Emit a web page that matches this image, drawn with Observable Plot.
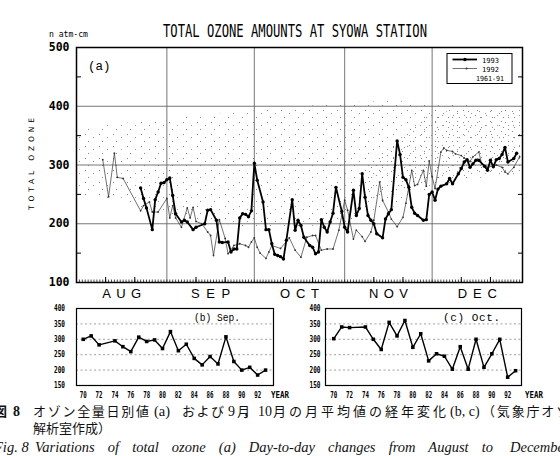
<!DOCTYPE html>
<html><head><meta charset="utf-8">
<script src="https://cdn.jsdelivr.net/npm/d3@7"></script>
<script src="https://cdn.jsdelivr.net/npm/@observablehq/plot@0.6"></script>
<style>
body{margin:0;background:#fff;}
#wrap{position:relative;width:560px;height:456px;overflow:hidden;background:#fff;}
#wrap svg{position:absolute;}
</style></head><body><div id="wrap"></div>
<script>
// ---------- DATA ----------
// (a) daily total ozone, day index counted from 1 August (0 = Aug 1)
const days1993 = [22,23,24,26,27,28,29,30,31,32,33,34,36,37,38,40,41,44,45,46,48,49,50,52,53,54,55,56,57,58,59,60,61,62,64,65,66,67,68,69,70,71,72,74,75,76,77,78,80,81,82,83,84,85,86,87,88,89,91,92,93,95,96,97,98,99,100,101,102,103,105,106,107,108,110,111,112,113,114,115,116,117,119,120,121,122,123,124,125,127,128,129,131,132,133,134,135,136,137,138,140,141,142,143,144,145,146,147,148,150,151,152];
const vals1993 = [261,243,227,190,241,254,269,270,275,278,248,217,203,206,203,190,194,200,223,224,206,169,168,169,152,157,157,210,217,216,212,222,303,274,237,190,190,166,148,146,144,140,172,241,189,206,197,177,163,160,149,152,207,194,186,203,218,262,221,194,186,257,214,226,285,245,214,206,200,183,176,208,217,224,341,318,279,275,262,228,218,214,206,207,250,254,240,259,264,268,277,268,285,294,305,309,296,302,308,308,298,291,308,297,309,311,318,330,305,311,320];
const days1992 = [9,11,13,14,16,22,23,25,26,28,31,32,33,34,36,38,39,40,41,43,45,46,47,49,51,52,54,56,58,59,60,61,62,63,65,66,67,70,73,75,77,79,81,82,84,86,88,90,92,93,95,96,98,99,101,102,104,105,107,108,110,112,113,115,116,117,119,120,121,122,123,125,126,127,129,130,132,133,135,136,138,139,141,144,146,147,148,150,152];
const vals1992 = [309,246,320,279,277,222,231,237,220,220,243,210,231,210,194,227,210,228,204,200,186,180,146,207,175,149,163,166,163,160,169,176,160,150,141,152,163,158,176,155,143,177,180,180,155,157,157,189,240,223,174,189,178,170,186,206,271,240,220,208,195,211,235,291,265,267,291,264,307,280,260,322,329,325,323,319,316,312,306,314,322,302,296,300,296,288,285,296,314];
// 1961-91 daily values (stippled): outer range and denser core
const envDays  = [0,15,31,46,61,76,92,107,122,137,153];
const envLow   = [250,238,215,200,195,195,200,225,258,276,285];
const envHigh  = [360,370,378,385,392,398,405,408,405,400,392];
const coreDays = [100,112,122,137,153];
const coreLow  = [240,258,272,282,288];
const coreHigh = [300,350,385,395,390];
const monthNames = ["AUG","SEP","OCT","NOV","DEC"];
const monthStartDays = [0,31,61,92,122,153];
// (b), (c) monthly means by year
const years    = [1970,1971,1972,1974,1975,1976,1977,1978,1979,1980,1981,1982,1983,1984,1985,1986,1987,1988,1989,1990,1991,1992,1993];
const sepMeans = [300,311,282,295,276,260,307,293,298,270,325,263,284,238,217,244,220,308,228,200,209,184,200];
const octMeans = [302,340,338,340,300,267,355,311,361,274,318,230,253,245,203,276,203,300,209,253,300,177,198];
const yearTicks = [1970,1972,1974,1976,1978,1980,1982,1984,1986,1988,1990,1992];

// ---------- BUILD ----------
const wrap = document.getElementById("wrap");
const toDate = d => new Date(Date.UTC(1993, 7, 1 + d));
const s93 = days1993.map((d, i) => ({date: toDate(d), value: vals1993[i]}));
const s92 = days1992.map((d, i) => ({date: toDate(d), value: vals1992[i]}));
const env = envDays.map((d, i) => ({date: toDate(d), lo: envLow[i], hi: envHigh[i]}));
const core = coreDays.map((d, i) => ({date: toDate(d), lo: coreLow[i], hi: coreHigh[i]}));
const months = monthNames.map((n, i) => ({name: n, mid: new Date((+toDate(monthStartDays[i]) + +toDate(monthStartDays[i + 1])) / 2)}));
const monthLines = monthStartDays.slice(1, 5).map(toDate);
const dayTicks = d3.utcDay.range(toDate(1), toDate(153));
const tenTicks = dayTicks.filter(d => d.getUTCDate() === 11 || d.getUTCDate() === 21);
const noLabel = () => "";

const main = Plot.plot({
  width: 560, height: 300,
  marginLeft: 76, marginRight: 38, marginTop: 47, marginBottom: 18,
  x: {type: "utc", domain: [toDate(0), toDate(153)]},
  y: {domain: [100, 500]},
  style: {fontFamily: "DejaVu Sans Mono", background: "transparent", color: "#000", overflow: "visible"},
  marks: [
    Plot.areaY(env, {x: "date", y1: "lo", y2: "hi", fill: "url(#stip)", curve: "monotone-x"}),
    Plot.areaY(core, {x: "date", y1: "lo", y2: "hi", fill: "url(#stip2)", curve: "monotone-x"}),
    Plot.ruleY([200, 300, 400], {stroke: "#666", strokeWidth: 0.9}),
    Plot.ruleX(monthLines, {stroke: "#666", strokeWidth: 0.9}),
    Plot.line(s92, {x: "date", y: "value", stroke: "#333", strokeWidth: 0.7}),
    Plot.dot(s92, {x: "date", y: "value", r: 0.9, fill: "#333"}),
    Plot.line(s93, {x: "date", y: "value", stroke: "#000", strokeWidth: 1.8}),
    Plot.dot(s93, {x: "date", y: "value", r: 1.7, fill: "#000"}),
    Plot.axisX({ticks: dayTicks, tickSize: -2.5, tickFormat: noLabel, strokeWidth: 0.7, label: null}),
    Plot.axisX({ticks: tenTicks, tickSize: -5, tickFormat: noLabel, label: null}),
    Plot.axisY({ticks: [150, 250, 350, 450], tickSize: -5, tickFormat: noLabel, label: null}),
    Plot.axisY({anchor: "right", ticks: [150, 250, 350, 450], tickSize: -5, tickFormat: noLabel, label: null}),
    Plot.axisY({ticks: [100, 200, 300, 400, 500], tickSize: 0, tickPadding: 7, fontSize: 11.5, fontWeight: "bold", label: null}),
    Plot.text(months, {x: "mid", text: "name", frameAnchor: "bottom", dy: 11, lineAnchor: "middle", fontSize: 13, fontFamily: "Liberation Sans"}),
    Plot.frame({stroke: "#000", strokeWidth: 1.5})
  ]
});
d3.select(main).insert("defs", ":first-child").html(
  `<pattern id="stip" width="14" height="12" patternUnits="userSpaceOnUse">
     <rect x="1" y="2" width="1" height="1" fill="#888"/>
     <rect x="9" y="5" width="1" height="1" fill="#999"/>
     <rect x="4" y="9" width="1" height="1" fill="#888"/>
   </pattern>
   <pattern id="stip2" width="11" height="10" patternUnits="userSpaceOnUse">
     <rect x="6" y="1" width="1" height="1" fill="#888"/>
     <rect x="2" y="5" width="1" height="1" fill="#999"/>
     <rect x="8" y="7" width="1" height="1" fill="#888"/>
   </pattern>`);
d3.select(main).selectAll('g[aria-label="text"] text').attr("textLength", 39).attr("lengthAdjust", "spacing");
main.style.left = "0px"; main.style.top = "0px";
wrap.appendChild(main);

function panel(vals, domain, ml, mr, w, pad) {
  const data = years.map((y, i) => ({year: y, v: vals[i]}));
  const p = Plot.plot({
    width: w, height: 110, marginLeft: ml, marginRight: mr, marginTop: 8, marginBottom: 25,
    x: {domain}, y: {domain: [150, 400]},
    style: {fontFamily: "DejaVu Sans Mono", background: "transparent", color: "#000", overflow: "visible"},
    marks: [
      Plot.ruleY([200, 250, 300, 350], {stroke: "#888", strokeDasharray: "2,2.5", strokeWidth: 0.8}),
      Plot.line(data, {x: "year", y: "v", stroke: "#000", strokeWidth: 1.4}),
      Plot.dot(data, {x: "year", y: "v", symbol: "square", r: 2, fill: "#000"}),
      Plot.axisY({ticks: [150, 200, 250, 300, 350, 400], tickSize: 0, tickPadding: pad, fontSize: 8.5, fontWeight: "bold", label: null}),
      Plot.axisX({ticks: yearTicks, tickSize: 0, tickPadding: 6, tickFormat: d => String(d % 100).padStart(2, "0"), fontSize: 8.5, fontWeight: "bold", label: null}),
      Plot.frame({stroke: "#000", strokeWidth: 1.2})
    ]
  });
  d3.select(p).selectAll('g[aria-label="y-axis tick label"] text').attr("textLength", 11).attr("lengthAdjust", "spacingAndGlyphs");
  d3.select(p).selectAll('g[aria-label="x-axis tick label"] text').attr("textLength", 7).attr("lengthAdjust", "spacingAndGlyphs");
  return p;
}
const pb = panel(sepMeans, [1969.15, 1994.0], 76, 17, 290, 11.5);
pb.style.left = "0px"; pb.style.top = "300px";
wrap.appendChild(pb);
const pc = panel(octMeans, [1968.95, 1993.75], 75, 39, 310, 5);
pc.style.left = "250px"; pc.style.top = "300px";
wrap.appendChild(pc);

// ---------- annotations ----------
const ov = `
<svg width="560" height="456" style="left:0;top:0;pointer-events:none" font-family="DejaVu Sans Mono">
  <text x="163" y="36.5" font-size="18" textLength="264" lengthAdjust="spacingAndGlyphs">TOTAL OZONE AMOUNTS AT SYOWA STATION</text>
  <text x="49" y="37" font-size="9" textLength="39" lengthAdjust="spacingAndGlyphs">n atm-cm</text>
  <text transform="translate(33.5,210) rotate(-90)" font-size="7.5" textLength="92" lengthAdjust="spacing" font-family="DejaVu Sans">TOTAL OZONE</text>
  <text x="88" y="70" font-family="Liberation Mono" font-size="12.5">(a)</text>
  <g>
    <rect x="447" y="53.5" width="65" height="30" fill="#fff" stroke="#000" stroke-width="1"/>
    <line x1="452.5" x2="477" y1="59.5" y2="59.5" stroke="#000" stroke-width="1.8"/>
    <circle cx="465" cy="59.5" r="1.7" fill="#000"/>
    <text x="482" y="63" font-size="7" textLength="17" lengthAdjust="spacingAndGlyphs">1993</text>
    <line x1="452.5" x2="477" y1="68.5" y2="68.5" stroke="#333" stroke-width="0.7"/>
    <circle cx="466.5" cy="68.5" r="1" fill="#333"/>
    <text x="482" y="72" font-size="7" textLength="17" lengthAdjust="spacingAndGlyphs">1992</text>
    <text x="476" y="80.5" font-size="7" textLength="28" lengthAdjust="spacingAndGlyphs">1961-91</text>
  </g>
  <text x="194" y="321" font-family="Liberation Mono" font-size="11" textLength="46" lengthAdjust="spacingAndGlyphs">(b) Sep.</text>
  <text x="443" y="321" font-family="Liberation Mono" font-size="11" textLength="57" lengthAdjust="spacing">(c) Oct.</text>
  <text x="271" y="398" font-size="8.5" font-weight="bold" textLength="18" lengthAdjust="spacingAndGlyphs">YEAR</text>
  <text x="525" y="398" font-size="8.5" font-weight="bold" textLength="18" lengthAdjust="spacingAndGlyphs">YEAR</text>
  <g font-family="'Liberation Serif','Noto Sans CJK JP'" font-size="13" fill="#111">
    <text x="-6" y="416" font-weight="bold" font-family="Noto Sans CJK JP">図</text>
    <text x="13" y="416" font-weight="bold" font-size="14">8</text>
    <text x="33" y="416" font-family="Noto Sans CJK JP" textLength="116" lengthAdjust="spacing">オゾン全量日別値</text>
    <text x="154" y="416" font-size="14.5">(a)</text>
    <text x="182" y="416" font-family="Noto Sans CJK JP" textLength="42" lengthAdjust="spacing">および</text>
    <text x="228" y="416" font-size="14">9</text>
    <text x="237" y="416" font-family="Noto Sans CJK JP" textLength="19" lengthAdjust="spacing">月，</text>
    <text x="258" y="416" font-size="14">10</text>
    <text x="273" y="416" font-family="Noto Sans CJK JP" textLength="173" lengthAdjust="spacing">月の月平均値の経年変化</text>
    <text x="450" y="416" font-size="14">(b, c)</text>
    <text x="482" y="416" font-family="Noto Sans CJK JP" textLength="102" lengthAdjust="spacing">（気象庁オゾン</text>
    <text x="33" y="433" font-family="Noto Sans CJK JP">解析室作成）</text>
    <text x="-6" y="452" font-style="italic" font-size="14.5">Fig. 8</text>
    <text x="35" y="452" font-style="italic" font-size="14.5" style="word-spacing:9.5px">Variations of total ozone (a) Day-to-day changes from August to</text>
    <text x="510" y="452" font-style="italic" font-size="14.5">December. (</text>
  </g>
</svg>`;
wrap.insertAdjacentHTML("beforeend", ov);
</script></body></html>
